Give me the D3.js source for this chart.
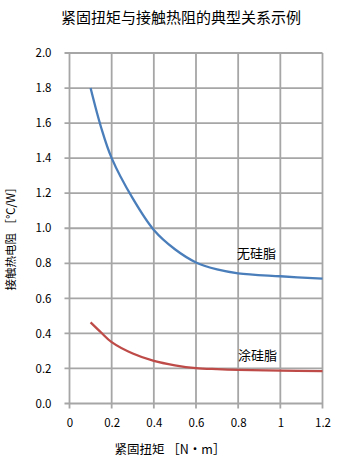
<!DOCTYPE html>
<html><head><meta charset="utf-8">
<script src="https://cdn.jsdelivr.net/npm/d3@7"></script>
<style>body{margin:0;background:#fff}svg{display:block}text{font-family:"Noto Sans CJK SC","DejaVu Sans",sans-serif}</style>
</head><body>
<script>
const title = "紧固扭矩与接触热阻的典型关系示例";
const xLabel = "紧固扭矩 ［N·m］";
const yLabel = "接触热电阻 ［℃/W］";
const xTicks = [0, 0.2, 0.4, 0.6, 0.8, 1.0, 1.2];
const yTicks = [0, 0.2, 0.4, 0.6, 0.8, 1.0, 1.2, 1.4, 1.6, 1.8, 2.0];
const torque = [0.1, 0.15, 0.2, 0.3, 0.4, 0.5, 0.6, 0.7, 0.8, 1.0, 1.2];
const noGrease = [1.80, 1.575, 1.40, 1.17, 0.99, 0.88, 0.805, 0.765, 0.743, 0.726, 0.712];
const withGrease = [0.463, 0.405, 0.35, 0.285, 0.243, 0.218, 0.202, 0.196, 0.192, 0.188, 0.185];
const seriesNames = ["无硅脂", "涂硅脂"];

const W = 361, H = 469;
const svg = d3.select("body").append("svg").attr("width", W).attr("height", H);
const x = d3.scaleLinear().domain([0, 1.2]).range([69.5, 322.5]);
const y = d3.scaleLinear().domain([0, 2.0]).range([403.5, 53]);

svg.append("text").attr("x", 181).attr("y", 23).attr("text-anchor", "middle")
  .attr("font-size", 15).attr("fill", "#000").text(title);

const grid = svg.append("g");
grid.selectAll("line.h").data(yTicks).join("line")
  .attr("x1", x(0) - 5).attr("x2", x(1.2))
  .attr("y1", d => y(d)).attr("y2", d => y(d))
  .attr("stroke", "#a6a6a6").attr("stroke-width", 1.8);
grid.selectAll("line.v").data(xTicks).join("line")
  .attr("y1", y(2.0)).attr("y2", y(0) + 5)
  .attr("x1", d => x(d)).attr("x2", d => x(d))
  .attr("stroke", "#a6a6a6").attr("stroke-width", 1.8);

const yAxis = d3.axisLeft(y).tickValues(yTicks).tickFormat(d3.format(".1f")).tickSize(0).tickPadding(0);
const gy = svg.append("g").attr("transform", `translate(${x(0) - 18},0)`).call(yAxis);
gy.select(".domain").remove();
gy.selectAll("text").attr("font-size", 11.5).attr("fill", "#000").attr("font-family", "DejaVu Sans");

const xAxis = d3.axisBottom(x).tickValues(xTicks).tickFormat(d => d3.format("~g")(d)).tickSize(0).tickPadding(0);
const gx = svg.append("g").attr("transform", `translate(0,${y(0) + 15})`).call(xAxis);
gx.select(".domain").remove();
gx.selectAll("text").attr("font-size", 11.5).attr("fill", "#000").attr("font-family", "DejaVu Sans");

svg.append("text").attr("x", 170).attr("y", 454).attr("text-anchor", "middle")
  .attr("font-size", 12.5).attr("fill", "#000").text(xLabel);
svg.append("text").attr("transform", "translate(15,236) rotate(-90)").attr("text-anchor", "middle")
  .attr("font-size", 11.5).attr("fill", "#000").text(yLabel);

const line = d3.line().x(d => x(d[0])).y(d => y(d[1])).curve(d3.curveCatmullRom.alpha(0.5));
svg.append("path").attr("d", line(torque.map((t, i) => [t, noGrease[i]])))
  .attr("fill", "none").attr("stroke", "#4a7ebb").attr("stroke-width", 2.3);
svg.append("path").attr("d", line(torque.map((t, i) => [t, withGrease[i]])))
  .attr("fill", "none").attr("stroke", "#be4b48").attr("stroke-width", 2.3);

svg.append("text").attr("x", 237).attr("y", 258).attr("font-size", 13).attr("fill", "#000").text(seriesNames[0]);
svg.append("text").attr("x", 238).attr("y", 360).attr("font-size", 13).attr("fill", "#000").text(seriesNames[1]);
</script>
</body></html>
